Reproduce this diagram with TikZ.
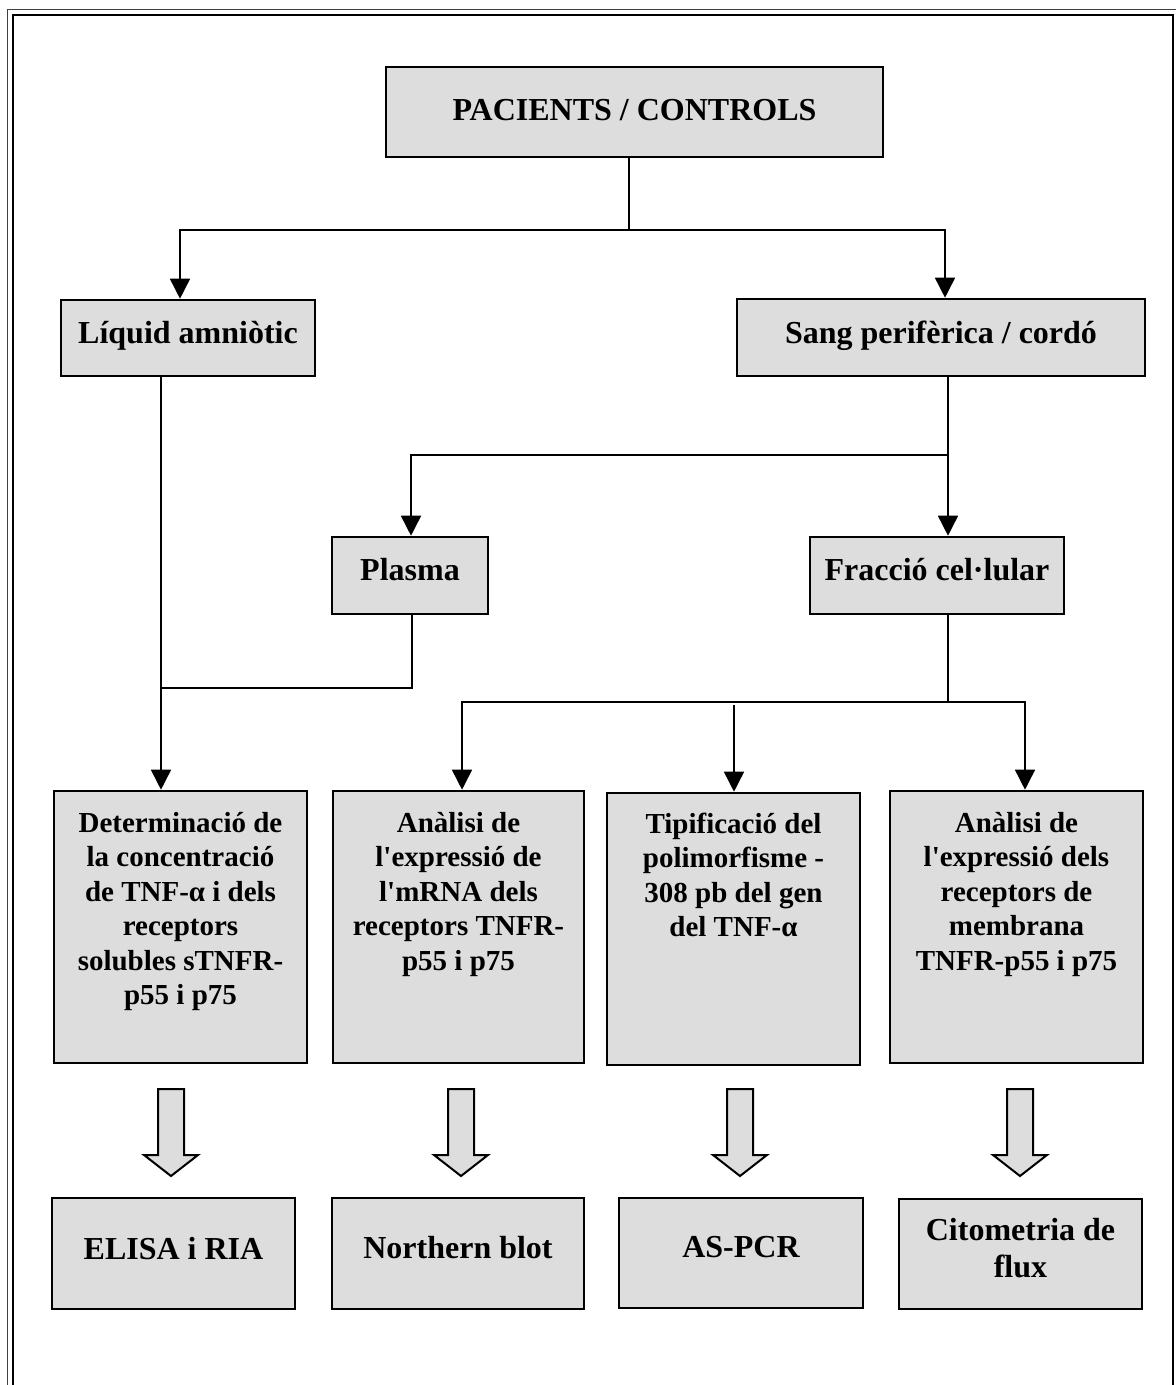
\documentclass[tikz,border=0pt]{standalone}
\usepackage{fontspec}
\setmainfont{Liberation Serif}
\usetikzlibrary{arrows.meta}
\definecolor{boxfill}{RGB}{221,221,221}
\newcommand\boxtext[4]{\parbox[c][#1][t]{#2}{\centering\rule{0pt}{#3}#4}}
\newcommand\hollowarrow[1]{\draw[barr] (#1,1089) ++(-13,0) -- ++(26,0) -- ++(0,66) -- ++(14,0) -- ++(-27,21) -- ++(-27,-21) -- ++(14,0) -- cycle;}
\tikzset{
  box/.style={draw=black, line width=2.6pt, fill=boxfill, inner sep=0pt, font=\fontsize{32}{37}\selectfont\bfseries},
  midbox/.style={box, font=\fontsize{29}{34.5}\selectfont\bfseries},
  conn/.style={line width=1.6pt},
  arr/.style={conn, -{Triangle[width=20pt,length=20pt]}},
  barr/.style={draw=black, line width=2pt, fill=boxfill, line join=miter},
}
\begin{document}
\begin{tikzpicture}[x=1pt,y=-1pt]
\useasboundingbox (0,0) rectangle (1176,1385);
\begin{scope}
\clip (0,0) rectangle (1176,1385);
\draw[line width=1.2pt, black!75] (7.5,9.5) rectangle (1180,1400);
\draw[line width=2.6pt] (13,15) rectangle (1173,1400);
\end{scope}

\node[box] (pac) at (634.5,112) {\boxtext{90pt}{497pt}{53pt}{PACIENTS / CONTROLS}};
\node[box] (liq) at (188,338) {\boxtext{76pt}{254pt}{43pt}{Líquid amniòtic}};
\node[box] (sang) at (941,337.5) {\boxtext{77pt}{408pt}{44pt}{Sang perifèrica / cordó}};
\node[box] (pla) at (410,575.5) {\boxtext{77pt}{156pt}{43pt}{Plasma}};
\node[box] (fra) at (937,575.5) {\boxtext{77pt}{254pt}{43pt}{Fracció cel·lular}};

\node[midbox] (b1) at (180.5,927) {\boxtext{272pt}{253pt}{41pt}{Determinació de\\la concentració\\de TNF-α i dels\\receptors\\solubles sTNFR-\\p55 i p75}};
\node[midbox] (b2) at (458.5,927) {\boxtext{272pt}{251pt}{41pt}{Anàlisi de\\l\textquotesingle expressió de\\l\textquotesingle mRNA dels\\receptors TNFR-\\p55 i p75}};
\node[midbox] (b3) at (733.5,929) {\boxtext{272pt}{253pt}{40pt}{Tipificació del\\polimorfisme -\\308 pb del gen\\del TNF-α}};
\node[midbox] (b4) at (1016.5,927) {\boxtext{272pt}{253pt}{41pt}{Anàlisi de\\l\textquotesingle expressió dels\\receptors de\\membrana\\TNFR-p55 i p75}};

\node[box] (e1) at (173.5,1253.5) {\boxtext{111pt}{243pt}{61pt}{ELISA i RIA}};
\node[box] (e2) at (458,1253.5) {\boxtext{111pt}{252pt}{60pt}{Northern blot}};
\node[box] (e3) at (741,1253) {\boxtext{110pt}{244pt}{59pt}{AS-PCR}};
\node[box] (e4) at (1020.5,1254) {\boxtext{110pt}{243pt}{41pt}{Citometria de\\flux}};

% connectors
\coordinate (j1) at (629,230);
\draw[conn] (pac.south -| j1) -- (j1);
\draw[arr] (j1) -| ([xshift=-8pt]liq.north);
\draw[arr] (j1) -| ([xshift=4pt]sang.north);

\draw[arr] ([xshift=7pt]sang.south) -- ([xshift=11pt]fra.north);
\coordinate (j2) at (948,455);
\draw[arr] (j2) -| ([xshift=1pt]pla.north);

\draw[arr] ([xshift=-27pt]liq.south) -- ([xshift=-19.5pt]b1.north);
\coordinate (j3) at (161,688);
\draw[conn] ([xshift=2pt]pla.south) |- (j3);

\coordinate (j4) at (948,702);
\draw[conn] ([xshift=11pt]fra.south) -- (j4);
\draw[arr] (j4) -| ([xshift=3.5pt]b2.north);
\draw[arr] (j4) -| ([xshift=8.5pt]b4.north);
\coordinate (j5) at (734,705);
\draw[arr] (j5) -- ([xshift=0.5pt]b3.north);

% hollow block arrows
\hollowarrow{171}
\hollowarrow{461}
\hollowarrow{740}
\hollowarrow{1020}
\end{tikzpicture}
\end{document}
